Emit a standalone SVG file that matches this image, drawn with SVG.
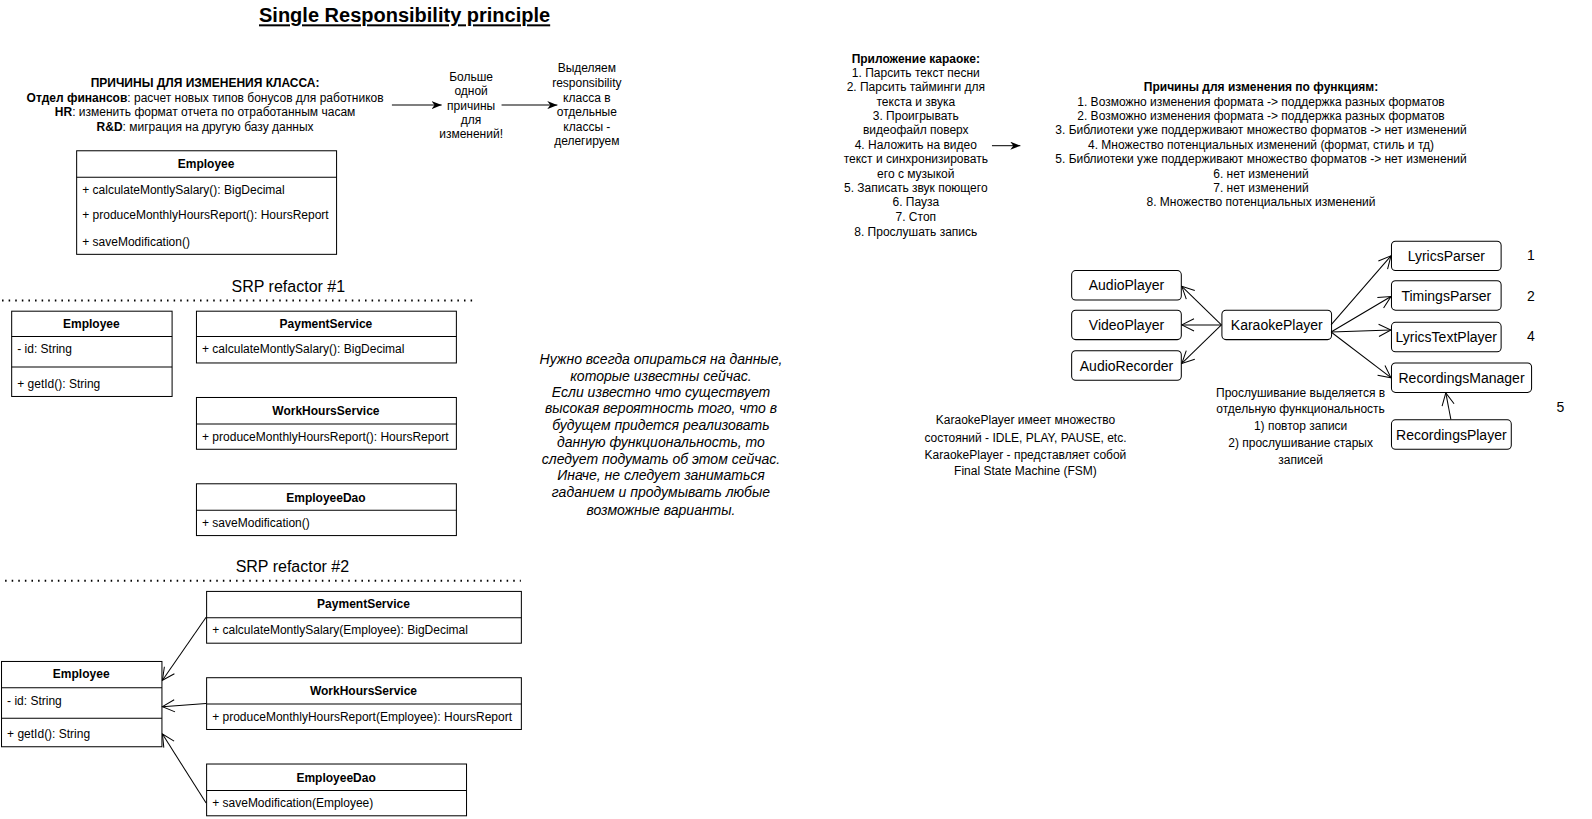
<svg xmlns="http://www.w3.org/2000/svg" width="1592" height="819" viewBox="0 0 1592 819">
<style>
text{font-family:"Liberation Sans",Arial,sans-serif;fill:#000}
.t12{font-size:11.82px}
.t14{font-size:13.79px}
.t16{font-size:15.76px}
.t20{font-size:19.7px}
.c{text-anchor:middle}
.b{font-weight:bold}
.box{fill:#fff;stroke:#000;stroke-width:1}
.ln{stroke:#000;stroke-width:1;fill:none}
.dot{stroke:#000;stroke-width:2;stroke-dasharray:1.5 5;fill:none}
.rn{fill:#fff;stroke:#000;stroke-width:1}
.it{font-size:13.79px;font-style:italic}
</style>
<defs>
<marker id="open" viewBox="0 0 14 14" refX="13" refY="7" markerWidth="14" markerHeight="14" markerUnits="userSpaceOnUse" orient="auto">
<path d="M1,1 L13,7 L1,13" fill="none" stroke="#000" stroke-width="1"/>
</marker>
<marker id="block" viewBox="0 0 10 8" refX="10" refY="4" markerWidth="10" markerHeight="8" markerUnits="userSpaceOnUse" orient="auto">
<path d="M0,0 L10,4 L0,8 L3,4 z" fill="#000"/>
</marker>
</defs>
<g id="diagram" transform="scale(1.0153)">
<g id="title">
<text x="398.5" y="22" class="t20 c b" style="text-decoration:underline">Single Responsibility principle</text>
</g>

<g id="reasons-class">
<text class="t12 c" x="202"><tspan x="202" y="86" class="b">ПРИЧИНЫ ДЛЯ ИЗМЕНЕНИЯ КЛАССА:</tspan><tspan x="202" y="100"><tspan class="b">Отдел финансов</tspan>: расчет новых типов бонусов для работников</tspan><tspan x="202" y="114"><tspan class="b">HR</tspan>: изменить формат отчета по отработанным часам</tspan><tspan x="202" y="129"><tspan class="b">R&amp;D</tspan>: миграция на другую базу данных</tspan></text>
</g>

<g id="more-reasons">
<text class="t12 c"><tspan x="464" y="80">Больше</tspan><tspan x="464" y="94">одной</tspan><tspan x="464" y="108">причины</tspan><tspan x="464" y="122">для</tspan><tspan x="464" y="136">изменений!</tspan></text>
</g>

<g id="delegate">
<text class="t12 c"><tspan x="578" y="71">Выделяем</tspan><tspan x="578" y="86">responsibility</tspan><tspan x="578" y="100">класса в</tspan><tspan x="578" y="114">отдельные</tspan><tspan x="578" y="129">классы -</tspan><tspan x="578" y="143">делегируем</tspan></text>
</g>

<g id="employee-orig">
<rect class="box" x="75.5" y="148.5" width="256" height="102"/>
<line class="ln" x1="75.5" y1="174.5" x2="331.5" y2="174.5"/>
<text class="t12 c b" x="203" y="165">Employee</text>
<text class="t12" x="81" y="191">+ calculateMontlySalary(): BigDecimal</text>
<text class="t12" x="81" y="216">+ produceMonthlyHoursReport(): HoursReport</text>
<text class="t12" x="81" y="242">+ saveModification()</text>
</g>

<g id="srp1-label">
<text class="t16 c" x="284" y="288">SRP refactor #1</text>
<line class="dot" x1="2" y1="296" x2="470" y2="296"/>
</g>

<g id="employee-1">
<rect class="box" x="11.5" y="306.5" width="158" height="84"/>
<line class="ln" x1="11.5" y1="331.5" x2="169.5" y2="331.5"/>
<line class="ln" x1="11.5" y1="361.5" x2="169.5" y2="361.5"/>
<text class="t12 c b" x="90" y="323">Employee</text>
<text class="t12" x="17" y="348">- id: String</text>
<text class="t12" x="17" y="382">+ getId(): String</text>
</g>

<g id="payment-1">
<rect class="box" x="193.5" y="306.5" width="256" height="51"/>
<line class="ln" x1="193.5" y1="331.5" x2="449.5" y2="331.5"/>
<text class="t12 c b" x="321" y="323">PaymentService</text>
<text class="t12" x="199" y="348">+ calculateMontlySalary(): BigDecimal</text>
</g>

<g id="workhours-1">
<rect class="box" x="193.5" y="391.5" width="256" height="51"/>
<line class="ln" x1="193.5" y1="417.5" x2="449.5" y2="417.5"/>
<text class="t12 c b" x="321" y="409">WorkHoursService</text>
<text class="t12" x="199" y="434">+ produceMonthlyHoursReport(): HoursReport</text>
</g>

<g id="dao-1">
<rect class="box" x="193.5" y="476.5" width="256" height="51"/>
<line class="ln" x1="193.5" y1="502.5" x2="449.5" y2="502.5"/>
<text class="t12 c b" x="321" y="494">EmployeeDao</text>
<text class="t12" x="199" y="519">+ saveModification()</text>
</g>

<g id="srp2-label">
<text class="t16 c" x="288" y="563">SRP refactor #2</text>
<line class="dot" x1="5" y1="572" x2="513" y2="572"/>
</g>

<g id="employee-2">
<rect class="box" x="1.5" y="651.5" width="158" height="84"/>
<line class="ln" x1="1.5" y1="677.5" x2="159.5" y2="677.5"/>
<line class="ln" x1="1.5" y1="707.5" x2="159.5" y2="707.5"/>
<text class="t12 c b" x="80" y="668">Employee</text>
<text class="t12" x="7" y="694">- id: String</text>
<text class="t12" x="7" y="727">+ getId(): String</text>
</g>

<g id="payment-2">
<rect class="box" x="203.5" y="582.5" width="310" height="51"/>
<line class="ln" x1="203.5" y1="608.5" x2="513.5" y2="608.5"/>
<text class="t12 c b" x="358" y="599">PaymentService</text>
<text class="t12" x="209" y="624">+ calculateMontlySalary(Employee): BigDecimal</text>
</g>

<g id="workhours-2">
<rect class="box" x="203.5" y="667.5" width="310" height="51"/>
<line class="ln" x1="203.5" y1="693.5" x2="513.5" y2="693.5"/>
<text class="t12 c b" x="358" y="685">WorkHoursService</text>
<text class="t12" x="209" y="710">+ produceMonthlyHoursReport(Employee): HoursReport</text>
</g>

<g id="dao-2">
<rect class="box" x="203.5" y="752.5" width="256" height="51"/>
<line class="ln" x1="203.5" y1="778.5" x2="459.5" y2="778.5"/>
<text class="t12 c b" x="331" y="770">EmployeeDao</text>
<text class="t12" x="209" y="795">+ saveModification(Employee)</text>
</g>

<g id="note-data">
<text class="it c"><tspan x="651" y="359">Нужно всегда опираться на данные,</tspan><tspan x="651" y="375">которые известны сейчас.</tspan><tspan x="651" y="391">Если известно что существует</tspan><tspan x="651" y="407">высокая вероятность того, что в</tspan><tspan x="651" y="424">будущем придется реализовать</tspan><tspan x="651" y="440">данную функциональность, то</tspan><tspan x="651" y="457">следует подумать об этом сейчас.</tspan><tspan x="651" y="473">Иначе, не следует заниматься</tspan><tspan x="651" y="490">гаданием и продумывать любые</tspan><tspan x="651" y="507">возможные варианты.</tspan></text>
</g>

<g id="karaoke-app">
<text class="t12 c"><tspan x="902" y="62" class="b">Приложение караоке:</tspan><tspan x="902" y="76">1. Парсить текст песни</tspan><tspan x="902" y="90">2. Парсить тайминги для</tspan><tspan x="902" y="104">текста и звука</tspan><tspan x="902" y="118">3. Проигрывать</tspan><tspan x="902" y="132">видеофайл поверх</tspan><tspan x="902" y="147">4. Наложить на видео</tspan><tspan x="902" y="161">текст и синхронизировать</tspan><tspan x="902" y="175">его с музыкой</tspan><tspan x="902" y="189">5. Записать звук поющего</tspan><tspan x="902" y="203">6. Пауза</tspan><tspan x="902" y="218">7. Стоп</tspan><tspan x="902" y="232">8. Прослушать запись</tspan></text>
</g>

<g id="reasons-func">
<text class="t12 c"><tspan x="1242" y="90" class="b">Причины для изменения по функциям:</tspan><tspan x="1242" y="104">1. Возможно изменения формата -&gt; поддержка разных форматов</tspan><tspan x="1242" y="118">2. Возможно изменения формата -&gt; поддержка разных форматов</tspan><tspan x="1242" y="132">3. Библиотеки уже поддерживают множество форматов -&gt; нет изменений</tspan><tspan x="1242" y="147">4. Множество потенциальных изменений (формат, стиль и тд)</tspan><tspan x="1242" y="161">5. Библиотеки уже поддерживают множество форматов -&gt; нет изменений</tspan><tspan x="1242" y="175">6. нет изменений</tspan><tspan x="1242" y="189">7. нет изменений</tspan><tspan x="1242" y="203">8. Множество потенциальных изменений</tspan></text>
</g>

<g id="AudioPlayer"><rect class="rn" x="1055.5" y="266.5" width="108" height="29" rx="4"/><text class="t14 c" x="1109.5" y="286">AudioPlayer</text></g>
<g id="VideoPlayer"><rect class="rn" x="1055.5" y="305.5" width="108" height="29" rx="4"/><text class="t14 c" x="1109.5" y="325">VideoPlayer</text></g>
<g id="AudioRecorder"><rect class="rn" x="1055.5" y="345.5" width="108" height="29" rx="4"/><text class="t14 c" x="1109.5" y="365">AudioRecorder</text></g>
<g id="KaraokePlayer"><rect class="rn" x="1203.5" y="305.5" width="108" height="29" rx="4"/><text class="t14 c" x="1257.5" y="325">KaraokePlayer</text></g>
<g id="LyricsParser"><rect class="rn" x="1370.5" y="237.5" width="108" height="29" rx="4"/><text class="t14 c" x="1424.5" y="257">LyricsParser</text></g>
<g id="TimingsParser"><rect class="rn" x="1370.5" y="276.5" width="108" height="29" rx="4"/><text class="t14 c" x="1424.5" y="296">TimingsParser</text></g>
<g id="LyricsTextPlayer"><rect class="rn" x="1370.5" y="317.5" width="108" height="29" rx="4"/><text class="t14 c" x="1424.5" y="337">LyricsTextPlayer</text></g>
<g id="RecordingsManager"><rect class="rn" x="1370.5" y="357.5" width="138" height="29" rx="4"/><text class="t14 c" x="1439.5" y="377">RecordingsManager</text></g>
<g id="RecordingsPlayer"><rect class="rn" x="1370.5" y="413.5" width="118" height="29" rx="4"/><text class="t14 c" x="1429.5" y="433">RecordingsPlayer</text></g>

<g id="numbers">
<text class="t14" x="1504" y="256">1</text>
<text class="t14" x="1504" y="296">2</text>
<text class="t14" x="1504" y="336">4</text>
<text class="t14" x="1533" y="406">5</text>
</g>

<g id="note-listen">
<text class="t12 c"><tspan x="1281" y="391">Прослушивание выделяется в</tspan><tspan x="1281" y="407">отдельную функциональность</tspan><tspan x="1281" y="424">1) повтор записи</tspan><tspan x="1281" y="440">2) прослушивание старых</tspan><tspan x="1281" y="457">записей</tspan></text>
</g>

<g id="note-fsm">
<text class="t12 c"><tspan x="1010" y="418">KaraokePlayer имеет множество</tspan><tspan x="1010" y="435">состояний - IDLE, PLAY, PAUSE, etc.</tspan><tspan x="1010" y="452">KaraokePlayer - представляет собой</tspan><tspan x="1010" y="468">Final State Machine (FSM)</tspan></text>
</g>

<g id="connectors">
<line class="ln" x1="386" y1="103.5" x2="435" y2="103.5" marker-end="url(#block)"/>
<line class="ln" x1="494" y1="103.5" x2="549" y2="103.5" marker-end="url(#block)"/>
<line class="ln" x1="977" y1="143.5" x2="1005" y2="143.5" marker-end="url(#block)"/>
<line class="ln" x1="203" y1="608" x2="160" y2="670" marker-end="url(#open)"/>
<line class="ln" x1="203" y1="693" x2="160" y2="696" marker-end="url(#open)"/>
<line class="ln" x1="203" y1="791" x2="160" y2="723" marker-end="url(#open)"/>
<line class="ln" x1="1203" y1="320" x2="1164" y2="282" marker-end="url(#open)"/>
<line class="ln" x1="1203" y1="320" x2="1164" y2="320" marker-end="url(#open)"/>
<line class="ln" x1="1203" y1="320" x2="1164" y2="358" marker-end="url(#open)"/>
<line class="ln" x1="1311" y1="320" x2="1370" y2="252" marker-end="url(#open)"/>
<line class="ln" x1="1311" y1="327" x2="1370" y2="292" marker-end="url(#open)"/>
<line class="ln" x1="1311" y1="327" x2="1370" y2="325" marker-end="url(#open)"/>
<line class="ln" x1="1311" y1="327" x2="1370" y2="372" marker-end="url(#open)"/>
<line class="ln" x1="1429" y1="413" x2="1424" y2="387" marker-end="url(#open)"/>
</g>
</g>
</svg>
